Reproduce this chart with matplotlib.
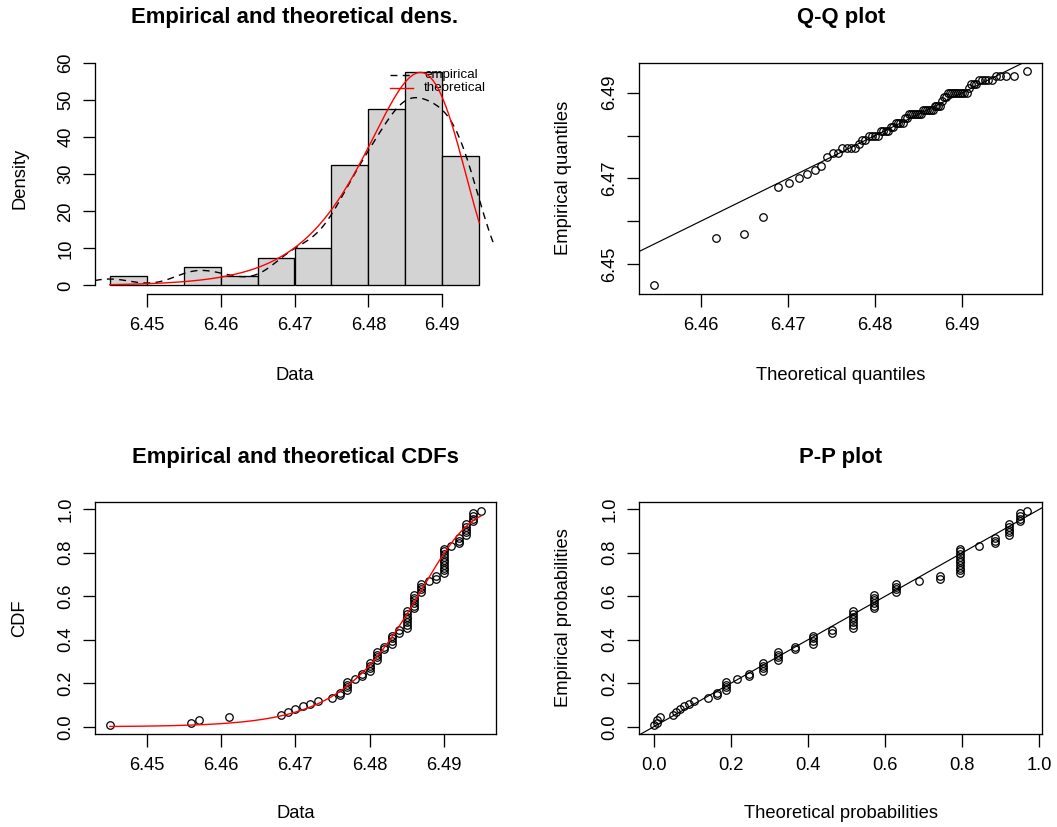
import numpy as np
import matplotlib
matplotlib.use("Agg")
import matplotlib.pyplot as plt
from matplotlib.lines import Line2D

plt.rcParams["font.family"] = ["Liberation Sans", "DejaVu Sans"]

# ------------------------------------------------------------------
# data read off the plots (80 observations, 0.001 resolution)
# ------------------------------------------------------------------
values = [6.445, 6.456, 6.457, 6.461, 6.468, 6.469, 6.470, 6.471, 6.472, 6.473,
          6.475, 6.476, 6.477, 6.478, 6.479, 6.480, 6.481, 6.482, 6.483, 6.484,
          6.485, 6.486, 6.487, 6.488, 6.489, 6.490, 6.491, 6.492, 6.493, 6.494,
          6.495]
counts = [1, 1, 1, 1, 1, 1, 1, 1, 1, 1,
          1, 2, 4, 1, 2, 4, 4, 2, 4, 2,
          7, 6, 4, 1, 2, 10, 1, 3, 5, 4,
          1]
breaks = [6.445, 6.450, 6.455, 6.460, 6.465, 6.470, 6.475, 6.480, 6.485, 6.490, 6.495]

data_ticks = [6.45, 6.46, 6.47, 6.48, 6.49]
data_labels = ["6.45", "6.46", "6.47", "6.48", "6.49"]
qq_xticks = [6.46, 6.47, 6.48, 6.49]
qq_xlabels = ["6.46", "6.47", "6.48", "6.49"]
qq_yticks = [6.45, 6.46, 6.47, 6.48, 6.49]
qq_ylabels = ["6.45", "", "6.47", "", "6.49"]
dens_ticks = [0, 10, 20, 30, 40, 50, 60]
prob_ticks = [0.0, 0.2, 0.4, 0.6, 0.8, 1.0]
prob_labels = ["0.0", "0.2", "0.4", "0.6", "0.8", "1.0"]

data = np.repeat(values, counts)
n = len(data)
sdata = np.sort(data)
breaks = np.array(breaks)


# ------------------------------------------------------------------
# weibull fit (MLE) + helpers
# ------------------------------------------------------------------
def weibull_mle(x):
    c = x.max()
    ly = np.log(x / c)

    def g(k):
        w = np.exp(k * ly)
        return np.sum(w * ly) / np.sum(w) - 1.0 / k - ly.mean()

    lo, hi = 1.0, 1e5
    for _ in range(200):
        mid = np.sqrt(lo * hi)
        if g(mid) > 0:
            hi = mid
        else:
            lo = mid
    k = np.sqrt(lo * hi)
    lam = c * np.mean(np.exp(k * ly)) ** (1.0 / k)
    return k, lam


shape, scale = weibull_mle(data)


def wpdf(x):
    z = np.exp(shape * np.log(x / scale))
    return shape / x * z * np.exp(-z)


def wcdf(x):
    z = np.exp(shape * np.log(x / scale))
    return 1.0 - np.exp(-z)


def wq(p):
    return scale * (-np.log(1.0 - p)) ** (1.0 / shape)


def r_lim(lo, hi):
    d = 0.04 * (hi - lo)
    return lo - d, hi + d


pp = (np.arange(1, n + 1) - 0.5) / n

# histogram, right-closed bins like R
adj = breaks + 1e-7
adj[0] = breaks[0] - 1e-7
hcounts, _ = np.histogram(data, bins=adj)
width = breaks[1] - breaks[0]
hdens = hcounts / (n * width)

# kernel density, R's bw.nrd0
sd = data.std(ddof=1)
iqr = np.subtract(*np.percentile(data, [75, 25]))
bw = 0.9 * min(sd, iqr / 1.34) * n ** -0.2
xk = np.linspace(data.min() - 3 * bw, data.max() + 3 * bw, 512)
kde = np.exp(-0.5 * ((xk[:, None] - data[None, :]) / bw) ** 2).sum(1) / (n * bw * np.sqrt(2 * np.pi))

xs = np.linspace(breaks[0], breaks[-1], 300)

# ------------------------------------------------------------------
# figure layout (pixel boxes)
# ------------------------------------------------------------------
W, H = 1057, 827
fig = plt.figure(figsize=(W / 100, H / 100), dpi=100)
fig.patch.set_facecolor("white")


def add_ax(left, right, top, bottom):
    return fig.add_axes([left / W, (H - bottom) / H, (right - left) / W, (bottom - top) / H])


ax1 = add_ax(95, 494, 63, 294)
ax2 = add_ax(639.3, 1042.3, 62.7, 294)
ax3 = add_ax(95, 495.7, 502, 734)
ax4 = add_ax(639.3, 1042.3, 502, 734)

FS = 13.2
TFS = 15.9
LW = 0.95
MK = dict(marker="o", ls="none", mfc="none", mec="black", ms=5.4, mew=0.9)


def style(ax, box=True):
    for s in ax.spines.values():
        s.set_linewidth(LW)
        s.set_visible(box)
    ax.tick_params(direction="out", length=9, width=LW, labelsize=FS, colors="black")
    ax.tick_params(axis="x", pad=7.5)
    ax.tick_params(axis="y", pad=6)


def rot_y(ax):
    plt.setp(ax.get_yticklabels(), rotation=90, va="center", ha="right")


# ---- 1. density ----
style(ax1, box=False)
ax1.spines["bottom"].set_visible(True)
ax1.spines["left"].set_visible(True)
ax1.bar(breaks[:-1], hdens, width=width, align="edge", color="#d3d3d3",
        edgecolor="black", linewidth=LW, zorder=1)
ax1.plot(xk, kde, color="black", lw=1.0, dashes=(5, 3.8), zorder=3)
theo = wpdf(xs)
ax1.plot(xs, theo, color="red", lw=1.0, zorder=4)
ax1.set_xlim(*r_lim(breaks[0], breaks[-1]))
ax1.set_ylim(*r_lim(0, max(hdens.max(), theo.max())))
ax1.set_xticks(data_ticks)
ax1.set_xticklabels(data_labels)
ax1.set_yticks(dens_ticks)
ax1.set_yticklabels([str(t) for t in dens_ticks])
ax1.spines["bottom"].set_bounds(data_ticks[0], data_ticks[-1])
ax1.spines["left"].set_bounds(dens_ticks[0], dens_ticks[-1])
rot_y(ax1)


# legend
def axfrac(px, py):
    return (px - 95) / (494 - 95), (294 - py) / (294 - 63)


for py, col, dsh, lab in [(75, "black", (5, 3.8), "empirical"), (87.7, "red", None, "theoretical")]:
    x0, y0 = axfrac(390, py)
    x1, _ = axfrac(413, py)
    ln = Line2D([x0, x1], [y0, y0], transform=ax1.transAxes, color=col, lw=1.0, zorder=2)
    if dsh:
        ln.set_dashes(dsh)
    ax1.add_line(ln)
    tx, _ = axfrac(424, py)
    ax1.text(tx, y0, lab, transform=ax1.transAxes, fontsize=9.6, va="center", ha="left", zorder=2)

# ---- 2. Q-Q ----
style(ax2)
tq = wq(pp)
ax2.plot(tq, sdata, **MK, zorder=3)
ax2.set_xlim(*r_lim(tq.min(), tq.max()))
ax2.set_ylim(*r_lim(sdata.min(), sdata.max()))
lx = np.array(ax2.get_xlim())
ax2.plot(lx, lx, color="black", lw=0.85, zorder=2)
ax2.set_xlim(*r_lim(tq.min(), tq.max()))
ax2.set_xticks(qq_xticks)
ax2.set_xticklabels(qq_xlabels)
ax2.set_yticks(qq_yticks)
ax2.set_yticklabels(qq_ylabels)
rot_y(ax2)

# ---- 3. CDF ----
style(ax3)
ax3.plot(sdata, pp, **MK, zorder=3)
ax3.plot(xs, wcdf(xs), color="red", lw=1.0, zorder=4)
ax3.set_xlim(*r_lim(sdata.min(), sdata.max()))
ax3.set_ylim(*r_lim(pp.min(), pp.max()))
ax3.set_xticks(data_ticks)
ax3.set_xticklabels(data_labels)
ax3.set_yticks(prob_ticks)
ax3.set_yticklabels(prob_labels)
rot_y(ax3)

# ---- 4. P-P ----
style(ax4)
tp = wcdf(sdata)
ax4.plot(tp, pp, **MK, zorder=3)
ax4.set_xlim(*r_lim(tp.min(), tp.max()))
ax4.set_ylim(*r_lim(pp.min(), pp.max()))
ax4.plot([-1, 2], [-1, 2], color="black", lw=0.85, zorder=2)
ax4.set_xticks(prob_ticks)
ax4.set_xticklabels(prob_labels)
ax4.set_yticks(prob_ticks)
ax4.set_yticklabels(prob_labels)
rot_y(ax4)

# ------------------------------------------------------------------
# titles and axis labels
# ------------------------------------------------------------------
def ftext(px, py, s, **kw):
    fig.text(px / W, (H - py) / H, s, ha="center", va="center", **kw)


ftext(294.5, 17, "Empirical and theoretical dens.", fontsize=TFS, fontweight="bold")
ftext(840.8, 17, "Q-Q plot", fontsize=TFS, fontweight="bold")
ftext(295.3, 458, "Empirical and theoretical CDFs", fontsize=TFS, fontweight="bold")
ftext(840.8, 458, "P-P plot", fontsize=TFS, fontweight="bold")

ftext(294.5, 375, "Data", fontsize=FS)
ftext(840.8, 375, "Theoretical quantiles", fontsize=FS)
ftext(295.3, 813, "Data", fontsize=FS)
ftext(840.8, 813, "Theoretical probabilities", fontsize=FS)

ftext(20, 178, "Density", fontsize=FS, rotation=90)
ftext(563, 178, "Empirical quantiles", fontsize=FS, rotation=90)
ftext(20, 618, "CDF", fontsize=FS, rotation=90)
ftext(563, 618, "Empirical probabilities", fontsize=FS, rotation=90)

fig.savefig("out.png", dpi=100)
